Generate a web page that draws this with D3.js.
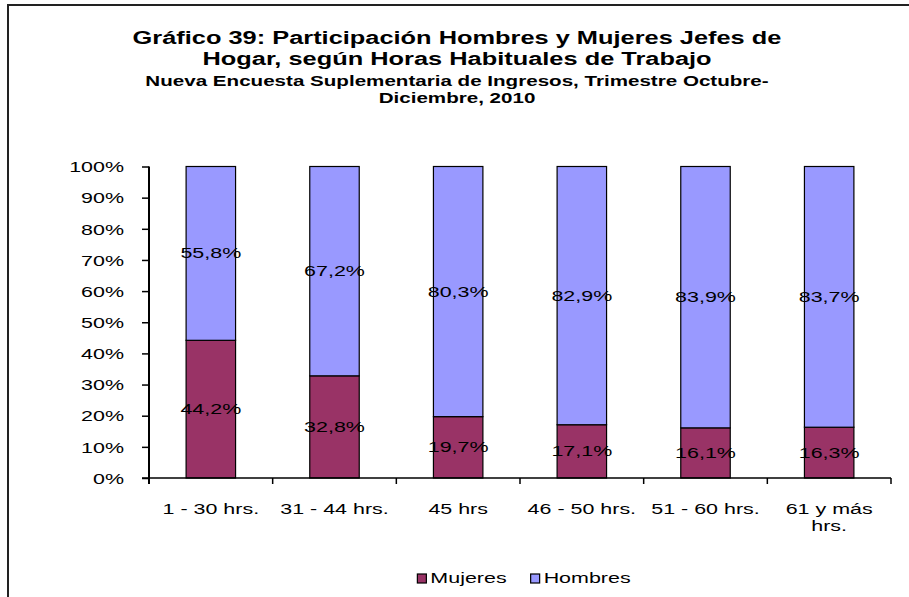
<!DOCTYPE html>
<html>
<head>
<meta charset="utf-8">
<script src="https://cdn.jsdelivr.net/npm/d3@7"></script>
<style>
  html, body { margin: 0; padding: 0; background: #fff; }
  svg { display: block; font-family: "Liberation Sans", Arial, Helvetica, sans-serif; }
</style>
</head>
<body>
<svg id="chart" width="909" height="597"></svg>
<script>
// Hours-worked groups
const categories = ["1 - 30 hrs.", "31 - 44 hrs.", "45 hrs", "46 - 50 hrs.", "51 - 60 hrs.", "61 y más hrs."];
// Share of household heads (%) in each group
const mujeres = [44.2, 32.8, 19.7, 17.1, 16.1, 16.3];
const hombres = [55.8, 67.2, 80.3, 82.9, 83.9, 83.7];
const seriesNames = ["Mujeres", "Hombres"];
const yTicks = [0, 10, 20, 30, 40, 50, 60, 70, 80, 90, 100];

const titleLines = [
  "Gráfico 39: Participación Hombres y Mujeres Jefes de",
  "Hogar, según Horas Habituales de Trabajo"
];
const subtitleLines = [
  "Nueva Encuesta Suplementaria de Ingresos, Trimestre Octubre-",
  "Diciembre, 2010"
];

const colors = { Mujeres: "#993366", Hombres: "#9999FF" };
const SX = 1.43;               // horizontal stretch applied to the chart lettering
const plot = { left: 149, right: 891, top: 166.5, bottom: 478 };

const svg = d3.select("#chart");

// outer frame
svg.append("rect")
  .attr("x", 8).attr("y", 5).attr("width", 960).attr("height", 640)
  .attr("fill", "#fff").attr("stroke", "#222").attr("stroke-width", 2);

// stretched text helper
function stretchedText(parent, str, x, y, opts = {}) {
  return parent.append("text")
    .attr("transform", `translate(${x},${y}) scale(${opts.sx || SX},1)`)
    .attr("text-anchor", opts.anchor || "middle")
    .attr("font-size", opts.size || 15)
    .attr("font-weight", opts.weight || "normal")
    .attr("fill", "#000")
    .text(str);
}

// titles
const cx = 457;
titleLines.forEach((t, i) => stretchedText(svg, t, cx, 44 + i * 21, { size: 18, weight: "bold", sx: 1.41 }));
subtitleLines.forEach((t, i) => stretchedText(svg, t, cx, 86 + i * 17, { size: 14.5, weight: "bold", sx: 1.42 }));

// scales
const x = d3.scaleBand().domain(categories).range([plot.left, plot.right]).paddingInner(0.6).paddingOuter(0.3);
const y = d3.scaleLinear().domain([0, 100]).range([plot.bottom, plot.top]);

// stacked data
const rows = categories.map((c, i) => ({ cat: c, Mujeres: mujeres[i], Hombres: hombres[i] }));
const stack = d3.stack().keys(seriesNames)(rows);

const g = svg.append("g");
stack.forEach(layer => {
  const key = layer.key;
  g.selectAll(null).data(layer).enter().append("rect")
    .attr("x", d => x(d.data.cat))
    .attr("width", x.bandwidth())
    .attr("y", d => y(d[1]))
    .attr("height", d => y(d[0]) - y(d[1]))
    .attr("fill", colors[key])
    .attr("stroke", "#000").attr("stroke-width", 1.2);
});

// value labels
stack.forEach(layer => {
  layer.forEach(d => {
    const v = d.data[layer.key];
    stretchedText(g, v.toFixed(1).replace(".", ",") + "%",
      x(d.data.cat) + x.bandwidth() / 2, y((d[0] + d[1]) / 2) + 5, { size: 15 });
  });
});

// y axis
const yAxis = svg.append("g")
  .attr("transform", `translate(${plot.left},0)`)
  .call(d3.axisLeft(y).tickValues(yTicks).tickSize(7).tickPadding(0).tickFormat(d => d + "%"));
yAxis.select(".domain").attr("stroke", "#000").attr("stroke-width", 2)
  .attr("d", `M0,${plot.top}V${plot.bottom + 6}`);
yAxis.selectAll(".tick line").attr("stroke", "#000").attr("stroke-width", 1.5);
yAxis.selectAll(".tick text")
  .attr("font-size", 15).attr("font-family", "Liberation Sans, Arial, sans-serif")
  .attr("fill", "#000")
  .attr("x", -25 / SX).attr("dy", "0.35em")
  .attr("transform", `scale(${SX},1)`);

// x axis line and category boundary ticks
const bounds = d3.range(categories.length + 1).map(i => plot.left + i * (plot.right - plot.left) / categories.length);
svg.append("line")
  .attr("x1", plot.left - 7).attr("x2", plot.right)
  .attr("y1", plot.bottom).attr("y2", plot.bottom)
  .attr("stroke", "#000").attr("stroke-width", 1.5);
svg.selectAll(".xtick").data(bounds.slice(1)).enter().append("line")
  .attr("x1", d => d).attr("x2", d => d)
  .attr("y1", plot.bottom).attr("y2", plot.bottom + 6)
  .attr("stroke", "#000").attr("stroke-width", 1.5);

// category labels, wrapped to the category width
const maxW = (plot.right - plot.left) / categories.length - 6;
categories.forEach(c => {
  const words = c.split(" ");
  const lines = [];
  let cur = "";
  const probe = svg.append("text").attr("font-size", 15);
  words.forEach(w => {
    const test = cur ? cur + " " + w : w;
    probe.text(test);
    if (probe.node().getComputedTextLength() * SX > maxW && cur) {
      lines.push(cur); cur = w;
    } else cur = test;
  });
  lines.push(cur);
  probe.remove();
  lines.forEach((ln, i) => stretchedText(svg, ln, x(c) + x.bandwidth() / 2, 514 + i * 17, { size: 15 }));
});

// legend
const legend = svg.append("g");
let lx = 0;
seriesNames.forEach(name => {
  const it = legend.append("g");
  it.append("rect").attr("x", lx).attr("y", -9).attr("width", 9).attr("height", 9)
    .attr("fill", colors[name]).attr("stroke", "#000").attr("stroke-width", 1.2);
  const t = stretchedText(it, name, lx + 13, 0, { size: 15, anchor: "start" });
  const w = t.node().getComputedTextLength() * SX;
  lx += 13 + w + 24;
});
const legendW = lx - 24;
legend.attr("transform", `translate(${(plot.left + plot.right) / 2 + 4 - legendW / 2},583)`);
</script>
</body>
</html>
